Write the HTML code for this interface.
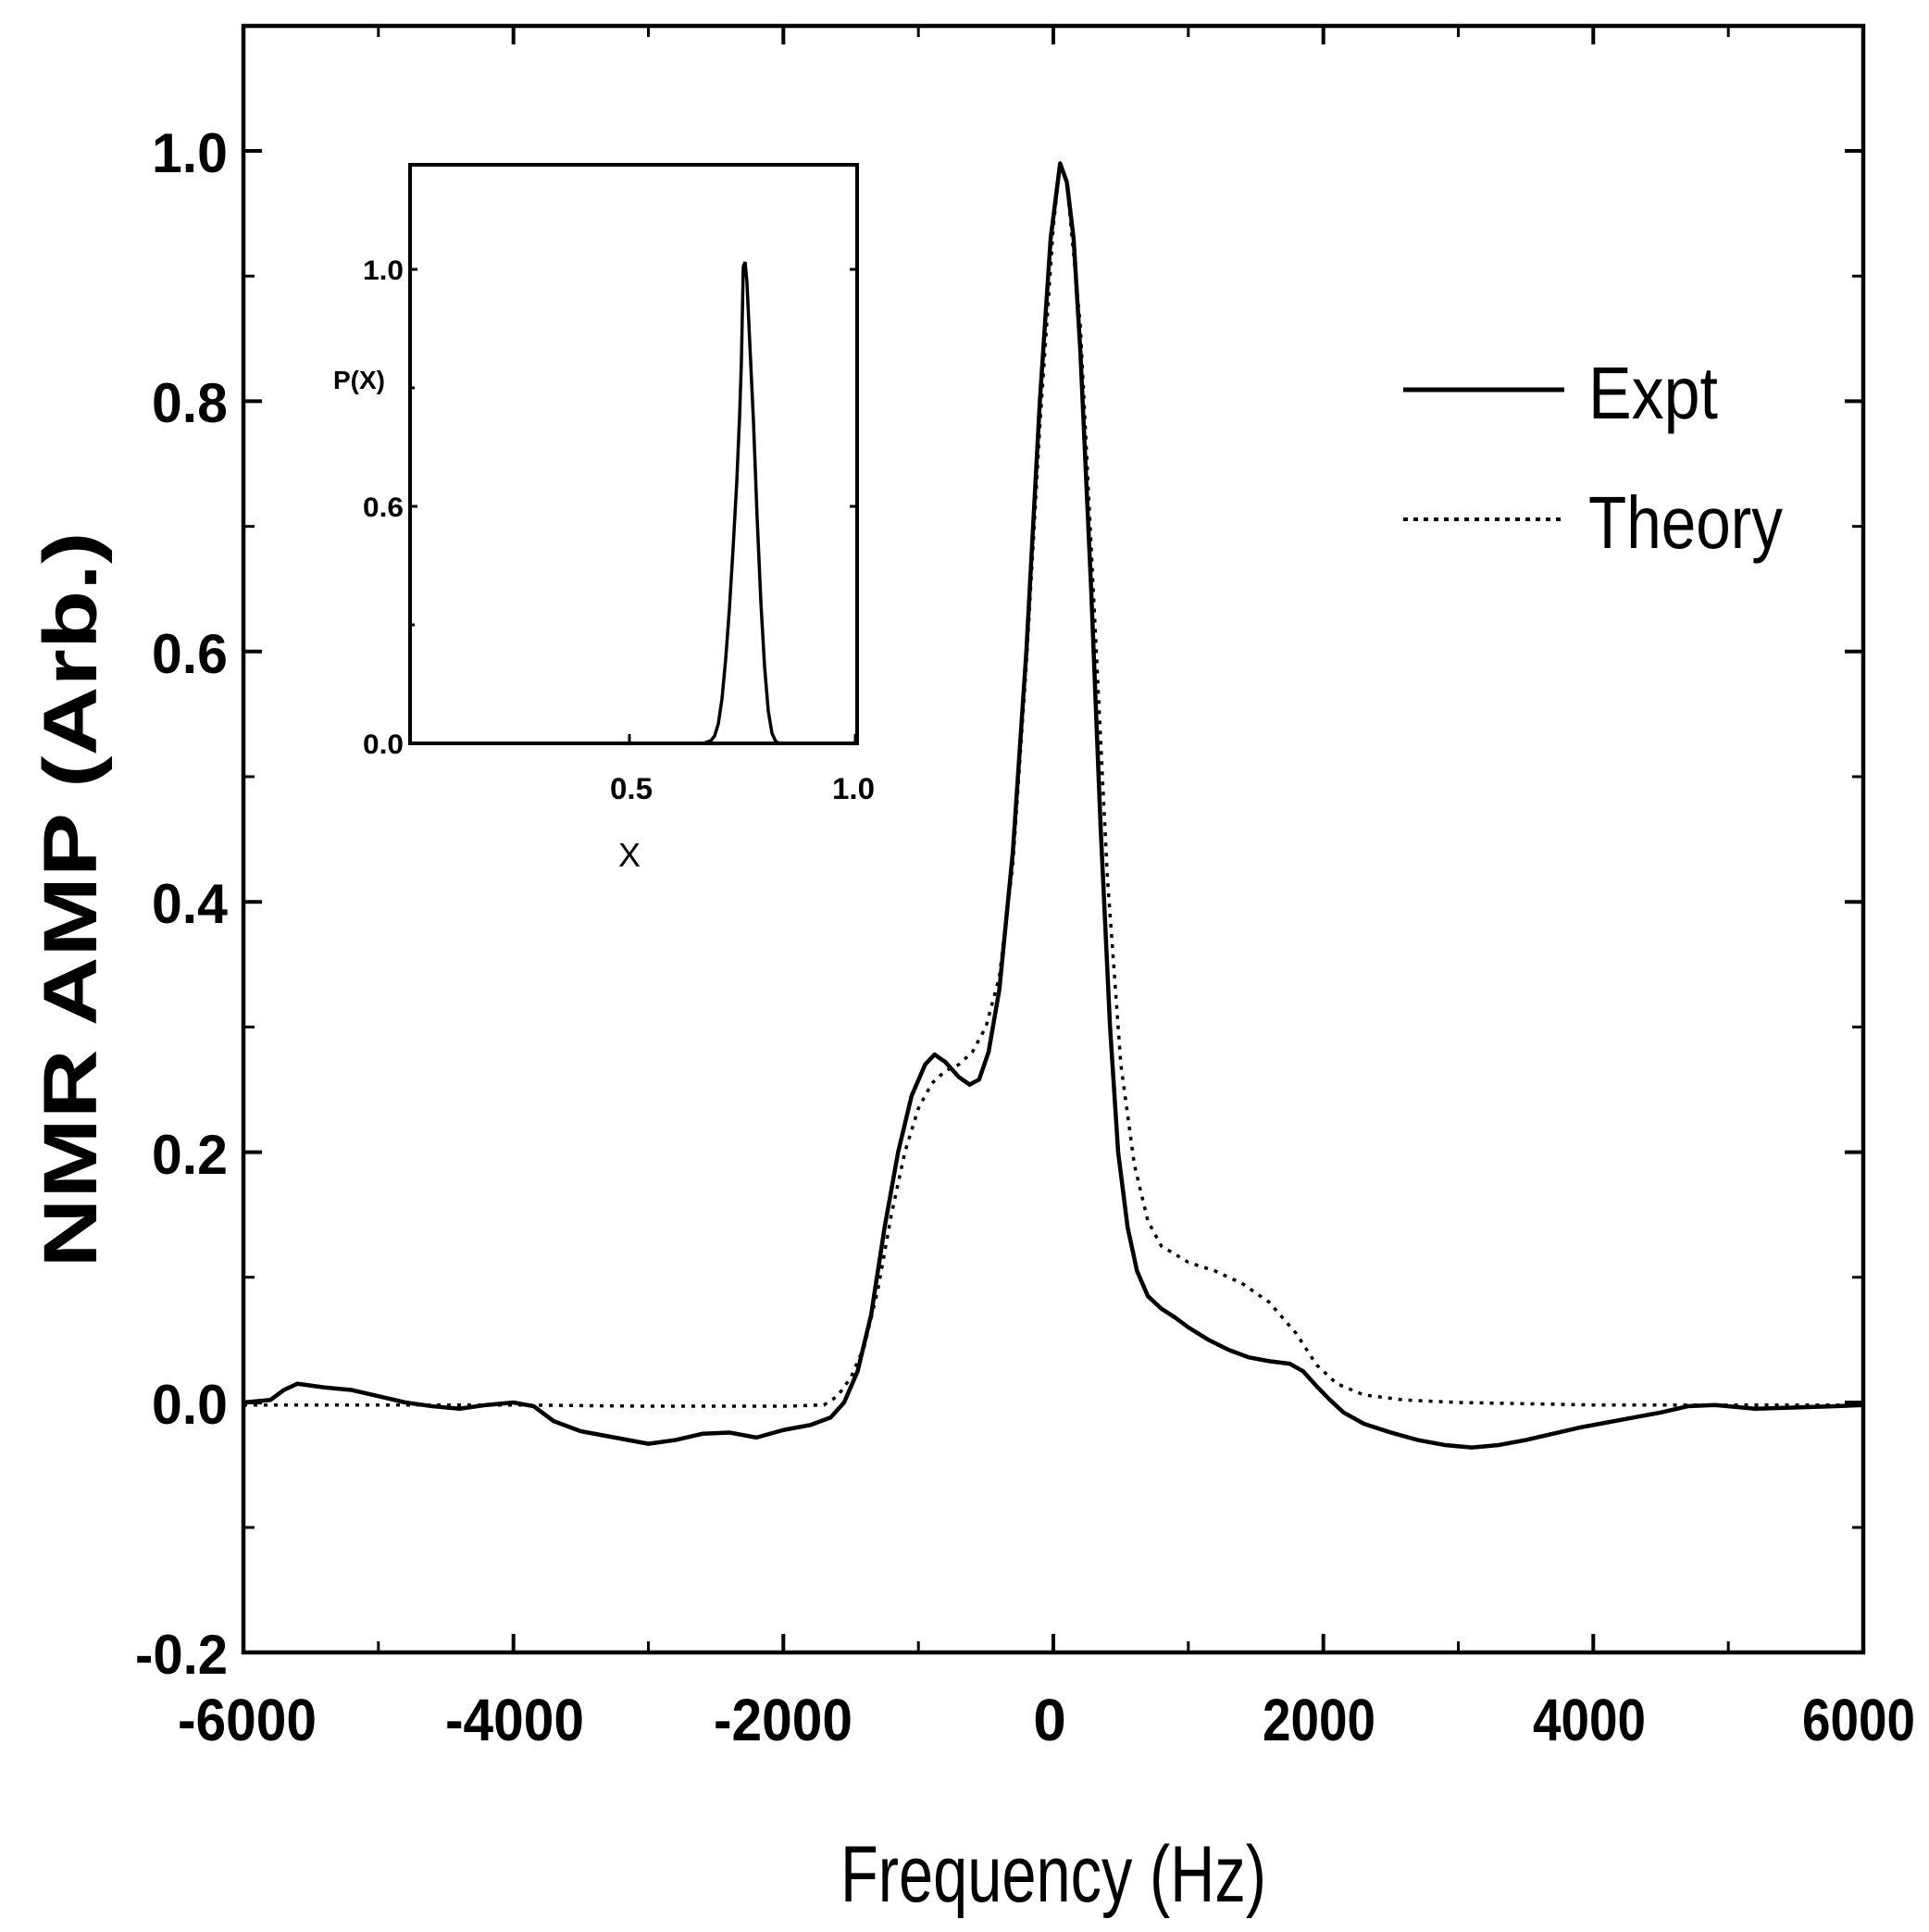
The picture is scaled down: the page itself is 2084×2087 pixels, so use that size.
<!DOCTYPE html>
<html><head><meta charset="utf-8"><style>
html,body{margin:0;padding:0;background:#fff;}
svg{display:block;}
text{font-family:"Liberation Sans",sans-serif;fill:#000;font-weight:bold;}
</style></head><body>
<svg width="2084" height="2087" viewBox="0 0 2084 2087" xmlns="http://www.w3.org/2000/svg">
<rect width="2084" height="2087" fill="#fff"/>
<rect x="263" y="28" width="1750" height="1757" fill="none" stroke="#000" stroke-width="4.5"/>
<g stroke="#000" stroke-width="4">
<path d="M263 1785v-20M554.7 1785v-20M846.3 1785v-20M1138 1785v-20M1429.7 1785v-20M1721.3 1785v-20M2013 1785v-20"/>
<path d="M554.7 28v20M846.3 28v20M1138 28v20M1429.7 28v20M1721.3 28v20"/>
<path d="M408.8 1785v-12M700.5 1785v-12M992.2 1785v-12M1283.8 1785v-12M1575.5 1785v-12M1867.2 1785v-12" stroke-width="3"/>
<path d="M408.8 28v12M700.5 28v12M992.2 28v12M1283.8 28v12M1575.5 28v12M1867.2 28v12" stroke-width="3"/>
<path d="M263 1515h20M263 1244.6h20M263 974.2h20M263 703.8h20M263 433.4h20M263 163h20"/>
<path d="M2013 1515h-20M2013 1244.6h-20M2013 974.2h-20M2013 703.8h-20M2013 433.4h-20M2013 163h-20"/>
<path d="M263 1650h12M263 1379.8h12M263 1109.4h12M263 839h12M263 568.6h12M263 298.2h12" stroke-width="3"/>
<path d="M2013 1650h-12M2013 1379.8h-12M2013 1109.4h-12M2013 839h-12M2013 568.6h-12M2013 298.2h-12" stroke-width="3"/>
</g>
<g font-size="60" text-anchor="end">
<text x="246" y="186" textLength="82" lengthAdjust="spacingAndGlyphs">1.0</text>
<text x="246" y="456" textLength="82" lengthAdjust="spacingAndGlyphs">0.8</text>
<text x="246" y="727" textLength="82" lengthAdjust="spacingAndGlyphs">0.6</text>
<text x="246" y="997" textLength="82" lengthAdjust="spacingAndGlyphs">0.4</text>
<text x="246" y="1268" textLength="82" lengthAdjust="spacingAndGlyphs">0.2</text>
<text x="246" y="1538" textLength="82" lengthAdjust="spacingAndGlyphs">0.0</text>
<text x="246" y="1808" textLength="100" lengthAdjust="spacingAndGlyphs">-0.2</text>
</g>
<g font-size="64" text-anchor="middle">
<text x="267" y="1880" textLength="150" lengthAdjust="spacingAndGlyphs">-6000</text>
<text x="556" y="1880" textLength="150" lengthAdjust="spacingAndGlyphs">-4000</text>
<text x="846" y="1880" textLength="150" lengthAdjust="spacingAndGlyphs">-2000</text>
<text x="1134" y="1880">0</text>
<text x="1425" y="1880" textLength="122" lengthAdjust="spacingAndGlyphs">2000</text>
<text x="1717" y="1880" textLength="122" lengthAdjust="spacingAndGlyphs">4000</text>
<text x="2008" y="1880" textLength="122" lengthAdjust="spacingAndGlyphs">6000</text>
</g>
<text x="1138" y="2054" font-size="86" text-anchor="middle" textLength="460" lengthAdjust="spacingAndGlyphs" style="font-weight:normal">Frequency (Hz)</text>
<text transform="translate(104,972) rotate(-90)" font-size="82" text-anchor="middle" textLength="795" lengthAdjust="spacingAndGlyphs">NMR  AMP  (Arb.)</text>
<line x1="1516" y1="421" x2="1690" y2="421" stroke="#000" stroke-width="5"/>
<text x="1716" y="452" font-size="80" textLength="140" lengthAdjust="spacingAndGlyphs" style="font-weight:normal">Expt</text>
<line x1="1516" y1="561" x2="1690" y2="561" stroke="#000" stroke-width="4" stroke-dasharray="5 6"/>
<text x="1716" y="592" font-size="80" textLength="210" lengthAdjust="spacingAndGlyphs" style="font-weight:normal">Theory</text>
<g transform="translate(1138,1515) scale(0.145833,-1352)" fill="none" stroke="#000">
<polyline vector-effect="non-scaling-stroke" stroke-width="3.5" stroke-dasharray="4 7" points="-6000,-0.002 -5000,-0.002 -4000,-0.002 -3000,-0.003 -2000,-0.003 -1700,-0.002 -1600,0.005 -1500,0.02 -1400,0.045 -1300,0.09 -1200,0.15 -1100,0.2 -1000,0.235 -900,0.255 -800,0.265 -700,0.27 -600,0.28 -500,0.3 -400,0.34 -300,0.43 -200,0.59 -100,0.78 0,0.94 50,0.99 100,0.975 200,0.86 300,0.64 400,0.42 500,0.27 600,0.19 700,0.145 800,0.125 1000,0.112 1200,0.105 1400,0.095 1600,0.08 1800,0.055 1950,0.03 2100,0.015 2300,0.006 2600,0.002 3000,0 4000,-0.002 5000,-0.002 6000,-0.002"/>
<polyline vector-effect="non-scaling-stroke" stroke-width="4.5" stroke-linejoin="round" points="-6000,0 -5800,0.002 -5700,0.01 -5600,0.015 -5400,0.012 -5200,0.01 -5000,0.005 -4800,0 -4600,-0.003 -4400,-0.005 -4200,-0.002 -4000,0 -3850,-0.003 -3700,-0.015 -3500,-0.023 -3300,-0.027 -3000,-0.033 -2800,-0.03 -2600,-0.025 -2400,-0.024 -2200,-0.028 -2000,-0.022 -1800,-0.018 -1650,-0.012 -1550,0 -1450,0.025 -1350,0.07 -1250,0.14 -1150,0.2 -1050,0.245 -950,0.27 -880,0.278 -800,0.272 -700,0.26 -620,0.254 -550,0.258 -480,0.28 -400,0.33 -300,0.44 -200,0.6 -100,0.8 -20,0.93 50,0.99 100,0.975 150,0.93 200,0.84 280,0.65 350,0.46 420,0.3 480,0.2 550,0.14 620,0.105 700,0.085 800,0.075 900,0.068 1000,0.06 1150,0.05 1300,0.042 1450,0.036 1600,0.033 1750,0.031 1850,0.025 1950,0.013 2050,0.002 2150,-0.008 2300,-0.017 2500,-0.024 2700,-0.03 2900,-0.034 3100,-0.036 3300,-0.034 3500,-0.03 3700,-0.025 3900,-0.02 4100,-0.016 4300,-0.012 4500,-0.008 4700,-0.003 4900,-0.002 5200,-0.005 5500,-0.004 5800,-0.003 6000,-0.002"/>
</g>
<rect x="443" y="178" width="483" height="625" fill="none" stroke="#000" stroke-width="4"/>
<g stroke="#000" stroke-width="3">
<path d="M680 803v-10M924 803v-10M443 547h8M443 291h8M926 547h-8M926 291h-8M443 675h5M443 419h5"/>
</g>
<g font-size="30" text-anchor="end">
<text x="436" y="302" textLength="44" lengthAdjust="spacingAndGlyphs">1.0</text>
<text x="436" y="558" textLength="44" lengthAdjust="spacingAndGlyphs">0.6</text>
<text x="436" y="814" textLength="44" lengthAdjust="spacingAndGlyphs">0.0</text>
</g>
<text x="388" y="420" font-size="28" text-anchor="middle" textLength="56" lengthAdjust="spacingAndGlyphs">P(X)</text>
<text x="682" y="863" font-size="32" text-anchor="middle" textLength="46" lengthAdjust="spacingAndGlyphs">0.5</text>
<text x="922" y="863" font-size="32" text-anchor="middle" textLength="46" lengthAdjust="spacingAndGlyphs">1.0</text>
<text x="680" y="936" font-size="36" text-anchor="middle" style="font-weight:normal">X</text>
<polyline fill="none" stroke="#000" stroke-width="3.5" points="443,803 760,803 768,800 772,795 776,782 780,755 784,712 788,658 792,592 796,520 799,450 801,390 803,288 805,283 807,305 810,370 814,455 818,560 822,650 826,720 830,768 834,792 838,801 842,803 926,803"/>
</svg>
</body></html>
